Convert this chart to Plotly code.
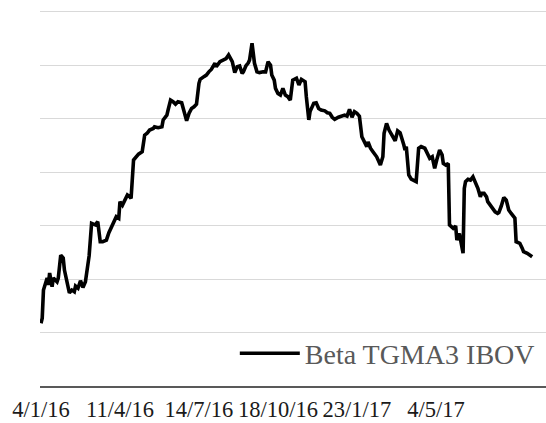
import plotly.graph_objects as go

# trading-day index (category position) of each sampled point
day_index = [0, 1, 2, 3, 5, 6, 7, 9, 10, 13, 14, 16, 18, 19, 21, 23, 25, 27, 28, 30,
             32, 34, 36, 38, 39, 41, 42, 44, 46, 48, 50, 53, 55, 57, 59, 61, 63, 64, 66, 68,
             70, 72, 73, 75, 77, 79, 82, 83, 84, 86, 88, 91, 92, 95, 98, 99, 102, 103, 105, 107,
             109, 111, 114, 116, 118, 120, 122, 124, 126, 128, 129, 132, 134, 136, 138, 141, 142, 145, 148, 150,
             152, 154, 155, 157, 159, 161, 163, 164, 166, 168, 169, 171, 172, 173, 175, 177, 180, 182, 184, 186,
             187, 189, 190, 192, 194, 196, 198, 200, 202, 203, 204, 207, 209, 211, 214, 215, 217, 218, 221, 223,
             225, 227, 230, 232, 234, 236, 238, 241, 244, 246, 248, 250, 252, 254, 256, 258, 260, 262, 264, 265,
             267, 269, 272, 275, 277, 278, 280, 282, 285, 287, 289, 291, 294, 295, 296, 298, 300, 302, 304, 306,
             308, 311, 313, 315, 317, 318, 319, 321, 323, 325, 326, 328, 330, 331, 334, 336, 337, 339, 340, 342,
             343, 344, 346, 348, 350, 352, 354, 356, 357, 359, 361, 362, 364, 366, 368, 370, 371, 373, 375, 377,
             379, 381, 383, 384, 385, 388, 390, 391, 394, 396, 398]

beta_tgma3_ibov = [0.235, 0.254, 0.359, 0.372, 0.404, 0.378, 0.423, 0.372, 0.404, 0.390, 0.404, 0.490, 0.479, 0.434, 0.385, 0.349, 0.359, 0.353, 0.374, 0.366,
                   0.394, 0.369, 0.390, 0.472, 0.487, 0.609, 0.606, 0.603, 0.615, 0.540, 0.540, 0.546, 0.574, 0.596, 0.615, 0.634, 0.628, 0.690, 0.677, 0.696,
                   0.715, 0.708, 0.702, 0.846, 0.858, 0.868, 0.877, 0.902, 0.939, 0.946, 0.958, 0.964, 0.970, 0.967, 0.970, 0.996, 1.014, 1.033, 1.070, 1.064,
                   1.055, 1.064, 1.060, 1.027, 0.993, 1.021, 1.039, 1.045, 1.055, 1.133, 1.148, 1.158, 1.164, 1.176, 1.185, 1.208, 1.195, 1.214, 1.220, 1.226,
                   1.239, 1.226, 1.214, 1.173, 1.195, 1.198, 1.170, 1.176, 1.198, 1.210, 1.220, 1.283, 1.239, 1.208, 1.176, 1.173, 1.176, 1.176, 1.214, 1.201,
                   1.164, 1.145, 1.114, 1.095, 1.089, 1.114, 1.089, 1.083, 1.070, 1.114, 1.145, 1.152, 1.127, 1.148, 1.139, 1.083, 0.996, 1.027, 1.058, 1.060,
                   1.039, 1.033, 1.030, 1.023, 1.021, 1.006, 0.998, 1.006, 1.010, 1.014, 1.010, 1.036, 1.006, 1.027, 1.021, 1.010, 0.933, 0.914, 0.896, 0.914,
                   0.890, 0.877, 0.858, 0.827, 0.858, 0.946, 0.983, 0.958, 0.933, 0.918, 0.955, 0.948, 0.902, 0.883, 0.896, 0.790, 0.774, 0.771, 0.765, 0.890,
                   0.896, 0.890, 0.873, 0.852, 0.858, 0.833, 0.815, 0.852, 0.883, 0.865, 0.833, 0.827, 0.833, 0.603, 0.590, 0.599, 0.546, 0.571, 0.546, 0.497,
                   0.740, 0.765, 0.774, 0.771, 0.783, 0.761, 0.740, 0.708, 0.721, 0.721, 0.708, 0.690, 0.677, 0.665, 0.652, 0.646, 0.649, 0.674, 0.706, 0.696,
                   0.659, 0.646, 0.634, 0.628, 0.540, 0.534, 0.515, 0.503, 0.497, 0.490, 0.484]

tick_positions = [0, 64, 128, 192, 256, 320]
tick_labels = ["4/1/16", "11/4/16", "14/7/16", "18/10/16", "23/1/17", "4/5/17"]
series_name = "Beta TGMA3 IBOV"

fig = go.Figure()
fig.add_trace(go.Scatter(
    x=day_index, y=beta_tgma3_ibov, mode="lines", name=series_name,
    line=dict(color="#000000", width=3.6, shape="linear"),
))

fig.update_layout(
    width=546, height=423,
    margin=dict(l=40, r=0, t=9, b=37, autoexpand=False),
    paper_bgcolor="white", plot_bgcolor="white",
    font=dict(family="Liberation Serif, Georgia, serif", color="#1a1a1a"),
    showlegend=True,
    legend=dict(
        x=0.385, xanchor="left", y=0.086, yanchor="middle",
        bgcolor="rgba(0,0,0,0)", borderwidth=0,
        font=dict(size=28, color="#595959", family="Liberation Serif, Georgia, serif"),
        itemwidth=60,
    ),
    xaxis=dict(
        range=[-0.8, 409.2], automargin=False,
        tickmode="array", tickvals=tick_positions, ticktext=tick_labels,
        tickfont=dict(size=22.5, color="#1a1a1a"),
        showgrid=False, zeroline=False,
        showline=True, linecolor="#595959", linewidth=1.5,
        ticks="", ticklabelstandoff=2,
    ),
    yaxis=dict(
        range=[0, 1.4112], dtick=0.2, automargin=False,
        showgrid=True, gridcolor="#d9d9d9", gridwidth=1.3,
        zeroline=False, showticklabels=False, showline=False, ticks="",
    ),
)

fig.write_html(
    "out.html",
    config={"displayModeBar": False},
    post_script="document.body.style.margin='0';document.body.style.overflow='hidden';",
)
